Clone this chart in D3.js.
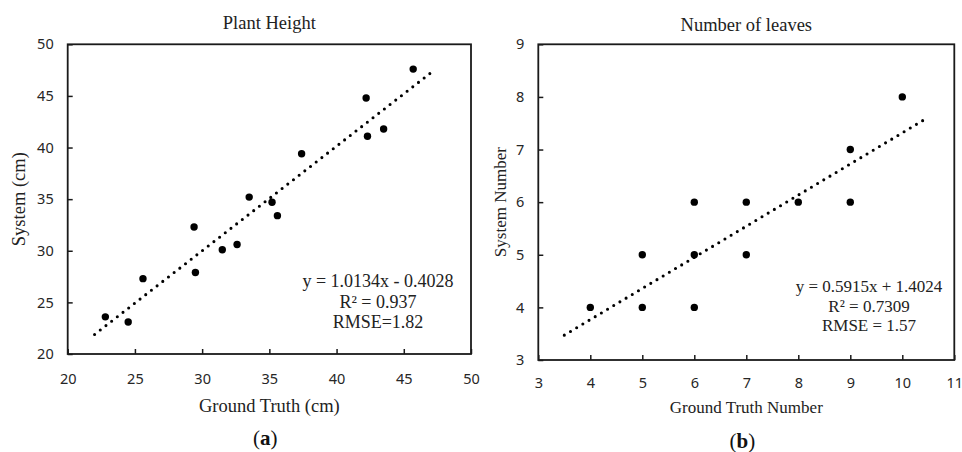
<!DOCTYPE html>
<html>
<head>
<meta charset="utf-8">
<script src="https://cdn.jsdelivr.net/npm/d3@7"></script>
<style>
  body { margin: 0; background: #fff; }
  svg { display: block; }
</style>
</head>
<body>
<svg id="chart" width="962" height="452"></svg>
<script>
// (a) plant height, cm
var heightTruth = [22.8, 24.5, 25.6, 29.4, 29.5, 31.5, 32.6, 33.5, 35.2, 35.6, 37.4, 42.2, 42.3, 43.5, 45.7];
var heightSystem = [23.6, 23.1, 27.3, 32.3, 27.9, 30.1, 30.6, 35.2, 34.7, 33.4, 39.4, 44.8, 41.1, 41.8, 47.6];
var heightTicks = [20, 25, 30, 35, 40, 45, 50];
var heightFit = [1.0134, -0.4028];
var heightFitRange = [22, 47];
var heightNotes = ["y = 1.0134x - 0.4028", "R\u00b2 = 0.937", "RMSE=1.82"];

// (b) number of leaves
var leafTruth = [4, 5, 5, 6, 6, 6, 7, 7, 8, 9, 9, 10];
var leafSystem = [4, 4, 5, 4, 5, 6, 5, 6, 6, 6, 7, 8];
var leafXTicks = [3, 4, 5, 6, 7, 8, 9, 10, 11];
var leafYTicks = [3, 4, 5, 6, 7, 8, 9];
var leafFit = [0.5915, 1.4024];
var leafFitRange = [3.5, 10.4];
var leafNotes = ["y = 0.5915x + 1.4024", "R\u00b2 = 0.7309", "RMSE = 1.57"];

var svg = d3.select("#chart");
var ink = "#1a1a1a";
var serif = "'Liberation Serif', 'Times New Roman', serif";
var sans = "'Noto Sans', 'Open Sans', sans-serif";

function drawPanel(p) {
  var x = d3.scaleLinear().domain(d3.extent(p.xTicks)).range([p.left, p.right]);
  var y = d3.scaleLinear().domain(d3.extent(p.yTicks)).range([p.bottom, p.top]);
  var g = svg.append("g");

  var xAxis = g.append("g")
    .attr("transform", "translate(0," + p.bottom + ")")
    .call(d3.axisBottom(x).tickValues(p.xTicks).tickSize(-5).tickPadding(p.xPad).tickFormat(d3.format("d")));
  var yAxis = g.append("g")
    .attr("transform", "translate(" + p.left + ",0)")
    .call(d3.axisLeft(y).tickValues(p.yTicks).tickSize(-5).tickPadding(14).tickFormat(d3.format("d")));

  [xAxis, yAxis].forEach(function (a) {
    a.select(".domain").remove();
    a.selectAll("line").attr("stroke", ink).attr("stroke-width", 1.5);
    a.selectAll("text").attr("fill", "#262626").style("font-family", sans).style("font-size", "14.5px");
  });

  g.append("rect")
    .attr("x", p.left).attr("y", p.top)
    .attr("width", p.right - p.left).attr("height", p.bottom - p.top)
    .attr("fill", "none").attr("stroke", ink).attr("stroke-width", 1.8);

  // trend line
  g.append("line")
    .attr("x1", x(p.fitRange[0])).attr("y1", y(p.fit[0] * p.fitRange[0] + p.fit[1]))
    .attr("x2", x(p.fitRange[1])).attr("y2", y(p.fit[0] * p.fitRange[1] + p.fit[1]))
    .attr("stroke", "#000").attr("stroke-width", 3.1)
    .attr("stroke-linecap", "round").attr("stroke-dasharray", "0 7.2");

  g.selectAll("circle")
    .data(p.xs)
    .enter()
    .append("circle")
    .attr("cx", function (d) { return x(d); })
    .attr("cy", function (d, i) { return y(p.ys[i]); })
    .attr("r", 3.7)
    .attr("fill", "#000");

  var cx = (p.left + p.right) / 2;
  var serifText = function (sel, size) {
    return sel.attr("fill", "#222").style("font-family", serif).style("font-size", size + "px");
  };

  serifText(g.append("text"), p.titleSize)
    .attr("x", cx).attr("y", p.titleY).attr("text-anchor", "middle").text(p.title);
  serifText(g.append("text"), p.labelSize)
    .attr("x", cx).attr("y", p.xLabelY).attr("text-anchor", "middle").text(p.xLabel);
  serifText(g.append("text"), p.labelSize)
    .attr("transform", "translate(" + p.yLabelX + "," + (p.top + p.bottom) / 2 + ") rotate(-90)")
    .attr("text-anchor", "middle").text(p.yLabel);

  g.selectAll(".note")
    .data(p.notes)
    .enter()
    .append("text")
    .attr("class", "note")
    .attr("x", p.noteX)
    .attr("y", function (d, i) { return p.noteY + i * p.noteGap; })
    .attr("text-anchor", "middle")
    .call(serifText, p.noteSize)
    .text(function (d) { return d; });

  g.append("text")
    .attr("x", cx - 4).attr("y", p.tagY)
    .attr("text-anchor", "middle")
    .style("font-family", serif).style("font-size", "21px")
    .attr("fill", "#111")
    .html("(<tspan font-weight='bold'>" + p.tag + "</tspan>)");
}

drawPanel({
  xs: heightTruth, ys: heightSystem, xTicks: heightTicks, yTicks: heightTicks,
  fit: heightFit, fitRange: heightFitRange, notes: heightNotes,
  left: 67.7, right: 471, top: 44.3, bottom: 354, xPad: 19.7,
  title: "Plant Height", titleY: 29, titleSize: 18.5,
  xLabel: "Ground Truth (cm)", xLabelY: 412, yLabel: "System (cm)", yLabelX: 25, labelSize: 18.5,
  noteX: 378, noteY: 286.7, noteGap: 20.8, noteSize: 18,
  tag: "a", tagY: 445
});

drawPanel({
  xs: leafTruth, ys: leafSystem, xTicks: leafXTicks, yTicks: leafYTicks,
  fit: leafFit, fitRange: leafFitRange, notes: leafNotes,
  left: 538.3, right: 954.3, top: 44.3, bottom: 360, xPad: 17.7,
  title: "Number of leaves", titleY: 30.7, titleSize: 18.5,
  xLabel: "Ground Truth Number", xLabelY: 413, yLabel: "System Number", yLabelX: 506, labelSize: 17,
  noteX: 869, noteY: 292, noteGap: 19.5, noteSize: 17,
  tag: "b", tagY: 448
});
</script>
</body>
</html>
